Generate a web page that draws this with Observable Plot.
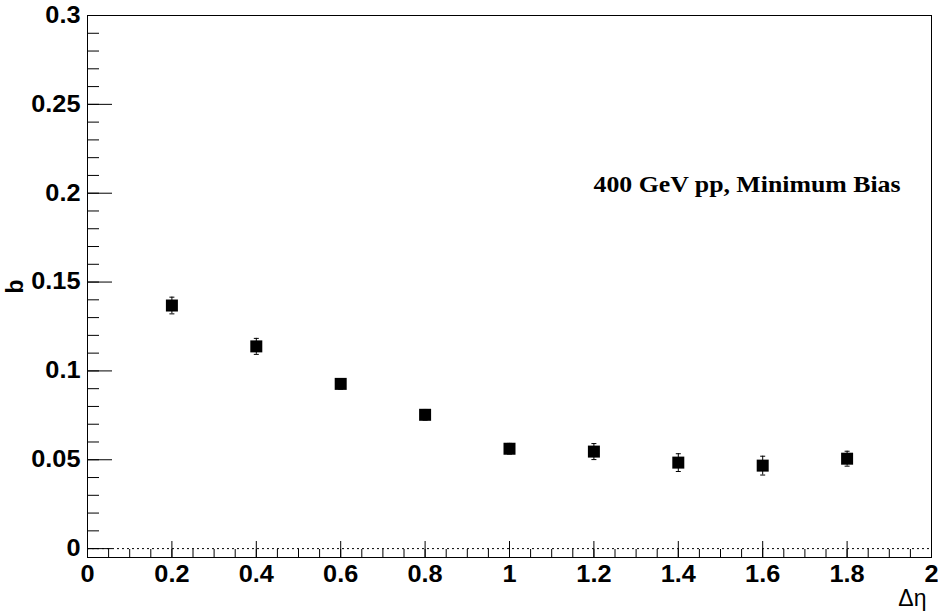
<!DOCTYPE html>
<html><head><meta charset="utf-8">
<script src="https://cdn.jsdelivr.net/npm/d3@7"></script>
<script src="https://cdn.jsdelivr.net/npm/@observablehq/plot@0.6"></script>
<style>body{margin:0;background:#fff}</style>
</head><body><div id="chart"></div>
<script>
// Data
const deltaEta = [0.2, 0.4, 0.6, 0.8, 1.0, 1.2, 1.4, 1.6, 1.8];
const bValues  = [0.1368, 0.1138, 0.0927, 0.0753, 0.0562, 0.0546, 0.0484, 0.0467, 0.0506];
const bErrors  = [0.0047, 0.0045, 0.0030, 0.0030, 0.0030, 0.0045, 0.0050, 0.0053, 0.0042];

// Ticks
const xMajorTicks = [0, 0.2, 0.4, 0.6, 0.8, 1, 1.2, 1.4, 1.6, 1.8, 2];
const xTickLabels = ["0", "0.2", "0.4", "0.6", "0.8", "1", "1.2", "1.4", "1.6", "1.8", "2"];
const yMajorTicks = [0, 0.05, 0.1, 0.15, 0.2, 0.25, 0.3];
const yTickLabels = ["0", "0.05", "0.1", "0.15", "0.2", "0.25", "0.3"];
const xMinorTicks = d3.range(0, 41).map(i => i * 0.05);
const yMinorTicks = d3.range(0, 31).map(i => i * 0.01);

const annotationText = "400 GeV pp, Minimum Bias";
const xTitle = "Δη";
const yTitle = "b";

const data = deltaEta.map((x, i) => ({x, y: bValues[i], lo: bValues[i] - bErrors[i], hi: bValues[i] + bErrors[i]}));

const W = 938, H = 613, mL = 87, mR = 7, mT = 15, mB = 56;
const innerW = W - mL - mR, innerH = H - mT - mB;

const capSymbol = {draw(ctx, size) { ctx.moveTo(-2.5, 0); ctx.lineTo(2.5, 0); }};

const sans = "'Liberation Sans', Arial, Helvetica, sans-serif";

const plot = Plot.plot({
  width: W, height: H,
  marginLeft: mL, marginRight: mR, marginTop: mT, marginBottom: mB,
  x: {domain: [0, 2]},
  y: {domain: [-0.005, 0.3]},
  style: {fontFamily: sans, fontSize: "23px", fontWeight: "bold", background: "#fff", color: "#000"},
  marks: [
    Plot.ruleY([0], {stroke: "black", strokeWidth: 1, strokeDasharray: "2,3"}),
    // minor & major ticks (inward)
    Plot.tickX(xMinorTicks, {x: d => d, stroke: "black", insetTop: innerH - 8}),
    Plot.tickX(xMajorTicks, {x: d => d, stroke: "black", insetTop: innerH - 16}),
    Plot.tickY(yMinorTicks, {y: d => d, stroke: "black", insetRight: innerW - 12}),
    Plot.tickY(yMajorTicks, {y: d => d, stroke: "black", insetRight: innerW - 25}),
    Plot.axisX({ticks: xMajorTicks, tickSize: 0, tickPadding: 8, label: null,
      tickFormat: d => xTickLabels[xMajorTicks.indexOf(d)], fontSize: 23, fontWeight: "bold"}),
    Plot.axisY({ticks: yMajorTicks, tickSize: 0, tickPadding: 7, label: null,
      tickFormat: d => yTickLabels[yMajorTicks.indexOf(d)], fontSize: 23, fontWeight: "bold"}),
    Plot.frame({stroke: "black", strokeWidth: 1}),
    // error bars
    Plot.ruleX(data, {x: "x", y1: "lo", y2: "hi", stroke: "black", strokeWidth: 1}),
    Plot.dot(data, {x: "x", y: "lo", symbol: capSymbol, stroke: "black", strokeWidth: 1, fill: "none"}),
    Plot.dot(data, {x: "x", y: "hi", symbol: capSymbol, stroke: "black", strokeWidth: 1, fill: "none"}),
    Plot.dot(data, {x: "x", y: "y", symbol: "square", r: 6.77, fill: "black", stroke: "none"}),
    // annotation
    Plot.text([annotationText], {text: d => d, frameAnchor: "top-right", dx: -31, dy: 169,
      textAnchor: "end", lineAnchor: "middle", fontFamily: "'Liberation Serif', 'Times New Roman', serif",
      fontSize: 23, fontWeight: "bold"}),
    Plot.text([xTitle], {text: d => d, frameAnchor: "bottom-right", dx: -5, dy: 41,
      textAnchor: "end", lineAnchor: "middle", fontSize: 23, fontWeight: "normal"}),
    Plot.text([yTitle], {text: d => d, frameAnchor: "left", dx: -72, rotate: -90,
      textAnchor: "middle", lineAnchor: "middle", fontSize: 23, fontWeight: "bold"})
  ]
});
document.getElementById("chart").append(plot);

function stretchEl(t, factor, fixed) {
  const L = t.getComputedTextLength();
  t.setAttribute("textLength", fixed ? fixed : L * factor);
  t.setAttribute("lengthAdjust", "spacingAndGlyphs");
}
plot.querySelectorAll('g[aria-label="x-axis tick label"] text, g[aria-label="y-axis tick label"] text')
  .forEach(t => stretchEl(t, 1.1));
plot.querySelectorAll('text').forEach(t => {
  if (t.textContent === annotationText) stretchEl(t, 1, 307);
});
</script>
</body></html>
